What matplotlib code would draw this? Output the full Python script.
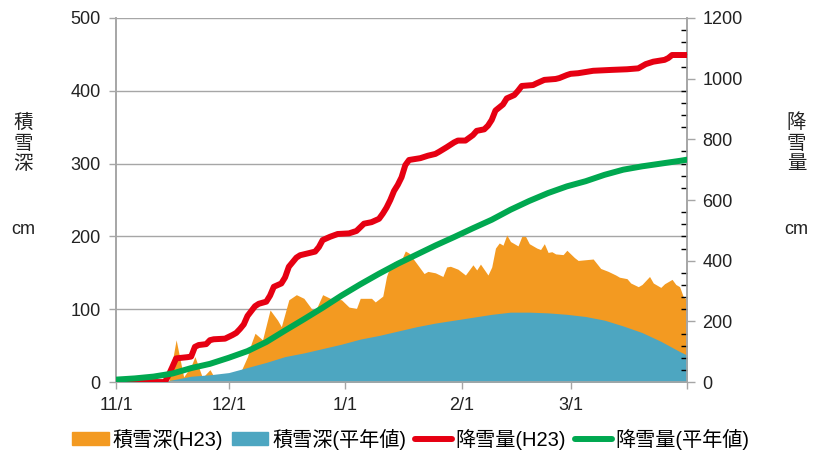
import numpy as np
import matplotlib.pyplot as plt
from matplotlib.patches import Patch
from matplotlib.lines import Line2D

plt.rcParams['font.family'] = ['Liberation Sans', 'Noto Sans CJK JP', 'DejaVu Sans']

# day index from 11/1 (0) to 4/1 (152)
tick_days = [0, 30, 61, 92, 121, 152]
tick_labels = ['11/1', '12/1', '1/1', '2/1', '3/1', '']

# snow depth H23 (cm)
depth_days = [0, 14, 16, 18, 20, 21, 23, 25, 26, 33, 35, 36, 37, 39, 41, 43, 44, 46, 48,
              50, 52, 53, 55, 57, 60, 62, 64, 65, 68, 69, 71, 72, 73, 74, 76, 77, 78, 80,
              82, 83, 85, 87, 88, 89, 91, 93, 95, 96, 97, 99, 100, 101, 102, 103, 104, 105,
              107, 108, 109, 110, 112, 113, 114, 115, 116, 117, 119, 120, 122, 123, 125,
              127, 129, 131, 133, 134, 136, 137, 139, 140, 142, 143, 145, 146, 148, 149,
              150, 151, 152]
depth_h23 = [0, 0, 58, 7, 22, 35, 6, 17, 8, 12, 35, 53, 67, 58, 99, 85, 76, 113, 120,
             115, 101, 97, 120, 115, 113, 103, 101, 115, 115, 110, 118, 145, 160, 165, 168,
             180, 177, 163, 149, 152, 150, 145, 158, 159, 155, 147, 161, 154, 162, 147, 158,
             184, 191, 188, 202, 193, 187, 200, 200, 190, 184, 182, 190, 178, 179, 176, 175,
             181, 171, 167, 168, 169, 156, 152, 147, 144, 142, 136, 131, 134, 145, 136, 130,
             135, 141, 134, 131, 117, 113]

# snow depth normal (cm)
normal_days = [0, 14, 20, 25, 30, 35, 40, 45, 50, 55, 60, 65, 70, 75, 80, 85, 90, 95,
               100, 105, 110, 115, 120, 125, 130, 135, 140, 145, 150, 152]
depth_normal = [0, 2, 8, 10, 13, 20, 27, 35, 40, 46, 52, 59, 64, 70, 76, 81, 85, 89,
                93, 96, 96, 95, 93, 90, 85, 77, 68, 56, 42, 37]

# cumulative snowfall H23 (cm)
fall_days = [0, 13, 14, 15, 16, 19, 20, 21, 22, 24, 25, 26, 29, 31, 32, 33, 34, 35, 37,
             38, 40, 41, 42, 44, 45, 46, 48, 49, 51, 53, 54, 55, 57, 59, 62, 64, 65, 66,
             68, 70, 71, 72, 73, 74, 75, 76, 77, 78, 81, 83, 85, 86, 88, 90, 91, 93, 95,
             96, 98, 99, 100, 101, 102, 103, 104, 106, 107, 108, 111, 112, 114, 117, 118,
             120, 121, 123, 125, 127, 132, 136, 139, 141, 143, 146, 147, 148, 152]
fall_h23 = [0, 0, 23, 50, 78, 82, 84, 116, 122, 125, 138, 141, 143, 155, 162, 175, 190,
            218, 250, 258, 265, 285, 314, 325, 345, 380, 410, 418, 424, 430, 445, 468, 479,
            488, 490, 498, 510, 522, 527, 538, 555, 575, 600, 630, 650, 675, 715, 732, 738,
            746, 752, 759, 774, 790, 796, 796, 814, 828, 833, 845, 864, 895, 905, 915, 935,
            946, 960, 976, 979, 985, 996, 999, 1002, 1012, 1016, 1018, 1022, 1026, 1029,
            1031, 1034, 1048, 1056, 1062, 1068, 1078, 1078]

# cumulative snowfall normal (cm)
fall_normal_days = [0, 5, 10, 15, 20, 25, 30, 35, 40, 45, 50, 55, 60, 65, 70, 75, 80, 85,
                    90, 95, 100, 105, 110, 115, 120, 125, 130, 135, 140, 145, 150, 152]
fall_normal = [8, 12, 18, 28, 46, 60, 80, 102, 132, 170, 207, 245, 285, 322, 357, 390,
               420, 450, 478, 507, 535, 568, 597, 623, 645, 662, 683, 700, 711, 720, 729, 733]

c_orange = '#F39A21'
c_blue = '#4DA6C1'
c_red = '#E60012'
c_green = '#00A850'
c_grid = '#A6A6A6'
c_text = '#222222'

fig = plt.figure(figsize=(8.17, 4.5), dpi=100)
ax = fig.add_axes([0.142, 0.151, 0.699, 0.809])
ax2 = ax.twinx()

ax.fill_between(depth_days, depth_h23, color=c_orange, lw=0, zorder=2)
ax.fill_between(normal_days, depth_normal, color=c_blue, lw=0, zorder=3)

ax2.plot(fall_days, fall_h23, color=c_red, lw=4.3, solid_capstyle='round',
         solid_joinstyle='round', zorder=4)
ax2.plot(fall_normal_days, fall_normal, color=c_green, lw=4.3, solid_capstyle='round',
         solid_joinstyle='round', zorder=5)

ax.set_zorder(ax2.get_zorder() - 1)
ax.patch.set_visible(False)

ax.set_xlim(0, 152)
ax.set_ylim(0, 500)
ax2.set_ylim(0, 1200)
ax.set_yticks(range(0, 501, 100))
ax2.set_yticks(range(0, 1201, 200))
ax2.set_yticks(range(0, 1201, 40), minor=True)
ax.set_xticks(tick_days)
ax.set_xticklabels(tick_labels)

ax.grid(axis='y', color=c_grid, lw=1, zorder=0)
ax.set_axisbelow(True)

for a in (ax, ax2):
    a.spines['top'].set_visible(False)
    for s in ('left', 'right', 'bottom'):
        a.spines[s].set_color(c_grid)
        a.spines[s].set_linewidth(1.2)
    a.tick_params(colors=c_grid, labelcolor=c_text, labelsize=13)

ax.tick_params(axis='y', length=5, width=1, pad=6)
ax.tick_params(axis='x', length=5, width=1, pad=6)
ax2.tick_params(axis='y', which='major', length=6, width=1, pad=5)
ax2.tick_params(axis='y', which='minor', direction='in', length=4, width=1)

cjk = ['Noto Sans CJK JP', 'DejaVu Sans']
fig.text(0.028, 0.682, '積\n雪\n深', fontsize=14, ha='center', va='center',
         linespacing=0.98, color=c_text, family=cjk)
fig.text(0.028, 0.491, 'cm', fontsize=13, ha='center', va='center', color=c_text)
fig.text(0.975, 0.682, '降\n雪\n量', fontsize=14, ha='center', va='center',
         linespacing=0.98, color=c_text, family=cjk)
fig.text(0.975, 0.491, 'cm', fontsize=13, ha='center', va='center', color=c_text)

handles = [Patch(color=c_orange), Patch(color=c_blue),
           Line2D([], [], color=c_red, lw=4.3, solid_capstyle='round'),
           Line2D([], [], color=c_green, lw=4.3, solid_capstyle='round')]
labels = ['積雪深(H23)', '積雪深(平年値)', '降雪量(H23)', '降雪量(平年値)']
fig.legend(handles, labels, loc='center', bbox_to_anchor=(0.503, 0.024), ncol=4,
           frameon=False, fontsize=14.5, handlelength=1.8, handleheight=0.6,
           handletextpad=0.2, columnspacing=0.45, borderaxespad=0)

fig.savefig('out.png', dpi=100)
